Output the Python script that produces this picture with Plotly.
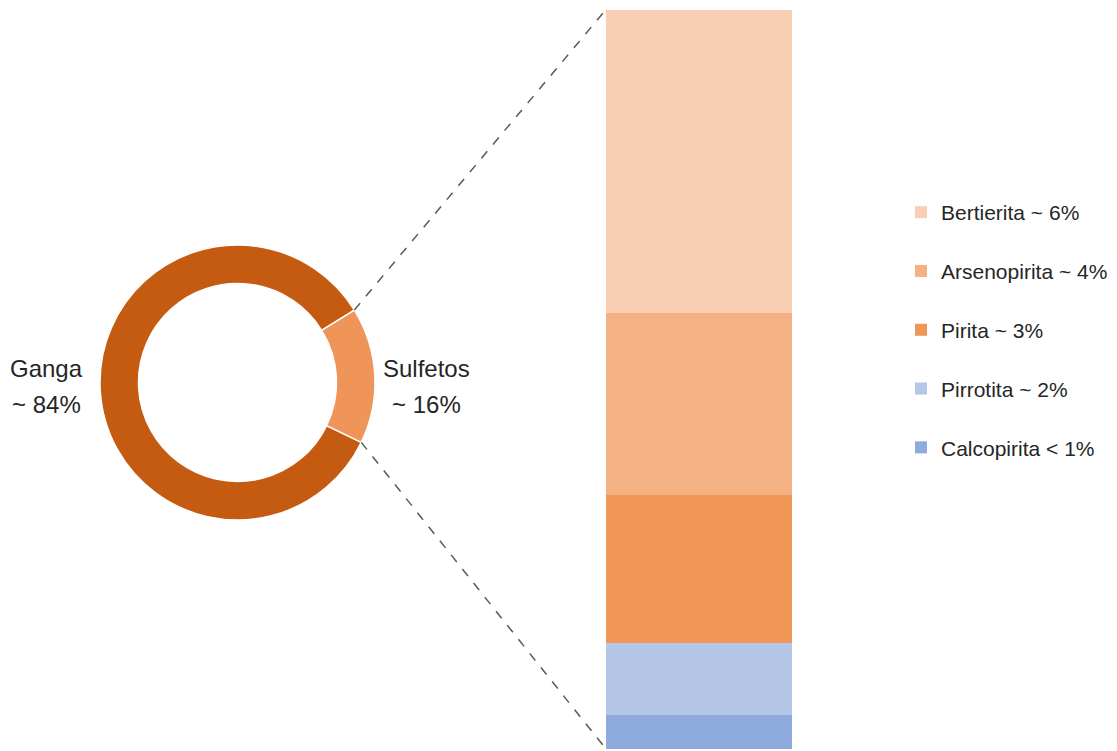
import math
import plotly.graph_objects as go

# Overall composition (donut)
donut_labels = ["Ganga", "Sulfetos"]
donut_values = [84, 16]
donut_colors = ["#C55A11", "#F0955A"]

# Sulfide breakdown (stacked column), listed top to bottom
sulf_names = ["Bertierita", "Arsenopirita", "Pirita", "Pirrotita", "Calcopirita"]
sulf_values = [6.55, 3.95, 3.2, 1.55, 0.75]
sulf_legend = ["~ 6%", "~ 4%", "~ 3%", "~ 2%", "< 1%"]
sulf_colors = ["#F8CFB2", "#F4B183", "#F09656", "#B4C7E7", "#8FAADC"]

W, H = 1117, 751
FONT = "Liberation Sans, Arial, sans-serif"
TEXT = "#262626"

# donut placement (pixels)
cx, cy, R = 237.5, 382.5, 137.5
hole = 0.72
tilt = 3.0  # Sulfetos slice centre, degrees above horizontal

# column placement (pixels)
bar_x0, bar_x1 = 606, 792
bar_top, bar_bot = 9.5, 749


def px(x):
    return x / W


def py(y):
    return 1 - y / H


sulf_share = donut_values[1] / sum(donut_values)
span = 360 * sulf_share
rotation = 90 - tilt + span / 2

fig = go.Figure()

fig.add_trace(go.Pie(
    labels=donut_labels,
    values=donut_values,
    hole=hole,
    sort=False,
    direction="clockwise",
    rotation=rotation,
    marker=dict(colors=donut_colors, line=dict(color="white", width=1.5)),
    textinfo="none",
    hoverinfo="label+percent",
    showlegend=False,
    domain=dict(x=[px(cx - R), px(cx + R)], y=[py(cy + R), py(cy - R)]),
))

# stacked column: add from bottom to top, legend listed top to bottom
n = len(sulf_names)
for i in reversed(range(n)):
    fig.add_trace(go.Bar(
        x=[0], y=[sulf_values[i]], name=f"{sulf_names[i]} {sulf_legend[i]}",
        marker=dict(color=sulf_colors[i], line=dict(width=0)),
        width=1, legendgroup=sulf_names[i], legendrank=100 + i,
        xaxis="x", yaxis="y",
    ))

# dashed connectors from the Sulfetos slice edges to the column corners
a_up = math.radians(tilt + span / 2)
a_dn = math.radians(tilt - span / 2)
up_pt = (cx + R * math.cos(a_up), cy - R * math.sin(a_up))
dn_pt = (cx + R * math.cos(a_dn), cy - R * math.sin(a_dn))
shapes = [
    dict(type="line", xref="paper", yref="paper",
         x0=px(up_pt[0]), y0=py(up_pt[1]), x1=px(bar_x0), y1=py(bar_top),
         line=dict(color="#595959", width=1.5, dash="dash")),
    dict(type="line", xref="paper", yref="paper",
         x0=px(dn_pt[0]), y0=py(dn_pt[1]), x1=px(bar_x0), y1=py(bar_bot),
         line=dict(color="#595959", width=1.5, dash="dash")),
]

label_font = dict(size=24, color=TEXT, family=FONT)
annotations = []
for lbl, val, xc in [(donut_labels[0], donut_values[0], cx - R - 54),
                     (donut_labels[1], donut_values[1], cx + R + 51.5)]:
    annotations.append(dict(text=lbl, xref="paper", yref="paper",
                            x=px(xc), y=py(cy - 14), xanchor="center", yanchor="middle",
                            showarrow=False, font=label_font))
    annotations.append(dict(text=f"~ {val}%", xref="paper", yref="paper",
                            x=px(xc), y=py(cy + 22), xanchor="center", yanchor="middle",
                            showarrow=False, font=label_font))

fig.update_layout(
    width=W, height=H,
    margin=dict(l=0, r=0, t=0, b=0),
    paper_bgcolor="white", plot_bgcolor="white",
    barmode="stack", bargap=0,
    xaxis=dict(domain=[px(bar_x0), px(bar_x1)], range=[-0.5, 0.5], visible=False, fixedrange=True),
    yaxis=dict(domain=[py(bar_bot), py(bar_top)], range=[0, sum(sulf_values)], visible=False, fixedrange=True),
    shapes=shapes,
    annotations=annotations,
    legend=dict(
        x=px(901), y=py(192), xanchor="left", yanchor="top",
        traceorder="grouped", tracegroupgap=28.5,
        font=dict(size=21, color=TEXT, family=FONT),
        itemwidth=30, bgcolor="rgba(0,0,0,0)",
    ),
    showlegend=True,
)

fig.write_html("out.html")
